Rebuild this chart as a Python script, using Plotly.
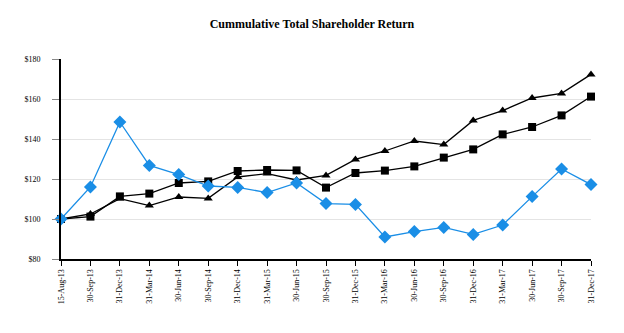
import plotly.graph_objects as go

dates = ["15-Aug-13", "30-Sep-13", "31-Dec-13", "31-Mar-14", "30-Jun-14", "30-Sep-14",
         "31-Dec-14", "31-Mar-15", "30-Jun-15", "30-Sep-15", "31-Dec-15", "31-Mar-16",
         "30-Jun-16", "30-Sep-16", "31-Dec-16", "31-Mar-17", "30-Jun-17", "30-Sep-17",
         "31-Dec-17"]
company = [100, 116, 148.5, 126.8, 122.2, 116.5, 115.8, 113.2, 118, 107.7, 107.3, 91,
           93.7, 95.8, 92.3, 97, 111.2, 125, 117.2]
index_sq = [100, 101.2, 111.3, 112.7, 118, 118.8, 124, 124.5, 124.3, 115.7, 123, 124.2,
            126.3, 130.7, 134.8, 142.3, 146, 151.8, 161.2]
index_tri = [100, 102.5, 110.2, 106.7, 111, 110.3, 121, 122.7, 119.5, 121.8, 129.8, 134,
             139, 137.2, 149.3, 154.2, 160.5, 162.8, 172.3]
y_ticks = [80, 100, 120, 140, 160, 180]
y_labels = ["$80", "$100", "$120", "$140", "$160", "$180"]

font_family = "Liberation Serif, Times New Roman, serif"

fig = go.Figure()
fig.add_trace(go.Scatter(x=dates, y=index_tri, mode="lines+markers", name="Index A",
                         line=dict(color="black", width=1.3),
                         marker=dict(symbol="triangle-up", size=8, color="black"),
                         cliponaxis=False))
fig.add_trace(go.Scatter(x=dates, y=index_sq, mode="lines+markers", name="Index B",
                         line=dict(color="black", width=1.3),
                         marker=dict(symbol="square", size=8, color="black"),
                         cliponaxis=False))
fig.add_trace(go.Scatter(x=dates, y=company, mode="lines+markers", name="Company",
                         line=dict(color="#1a8ee6", width=1.3),
                         marker=dict(symbol="diamond", size=10, color="#1a8ee6"),
                         cliponaxis=False))

fig.update_layout(
    width=624, height=333,
    margin=dict(l=61, r=33, t=59, b=74),
    paper_bgcolor="white", plot_bgcolor="white",
    showlegend=False,
    font=dict(family=font_family, color="black"),
    title=dict(text="<b>Cummulative Total Shareholder Return</b>",
               font=dict(family=font_family, size=12, color="black"),
               x=0.5, xanchor="center", y=1 - 24 / 333, yanchor="middle"),
)
fig.update_xaxes(type="category", range=[0, len(dates) - 1],
                 showline=True, linecolor="black", linewidth=2,
                 ticks="outside", ticklen=5, tickcolor="black", tickwidth=1,
                 tickangle=-90, tickfont=dict(size=8, family=font_family),
                 showgrid=False, zeroline=False)
fig.update_yaxes(range=[80, 180], tickvals=y_ticks, ticktext=y_labels,
                 showline=True, linecolor="black", linewidth=2,
                 ticks="outside", ticklen=7, tickcolor="#888888", tickwidth=1,
                 ticklabelstandoff=10,
                 tickfont=dict(size=8, family=font_family),
                 showgrid=True, gridcolor="#e4e4e4", gridwidth=1, zeroline=False)

fig.write_html("out.html")
